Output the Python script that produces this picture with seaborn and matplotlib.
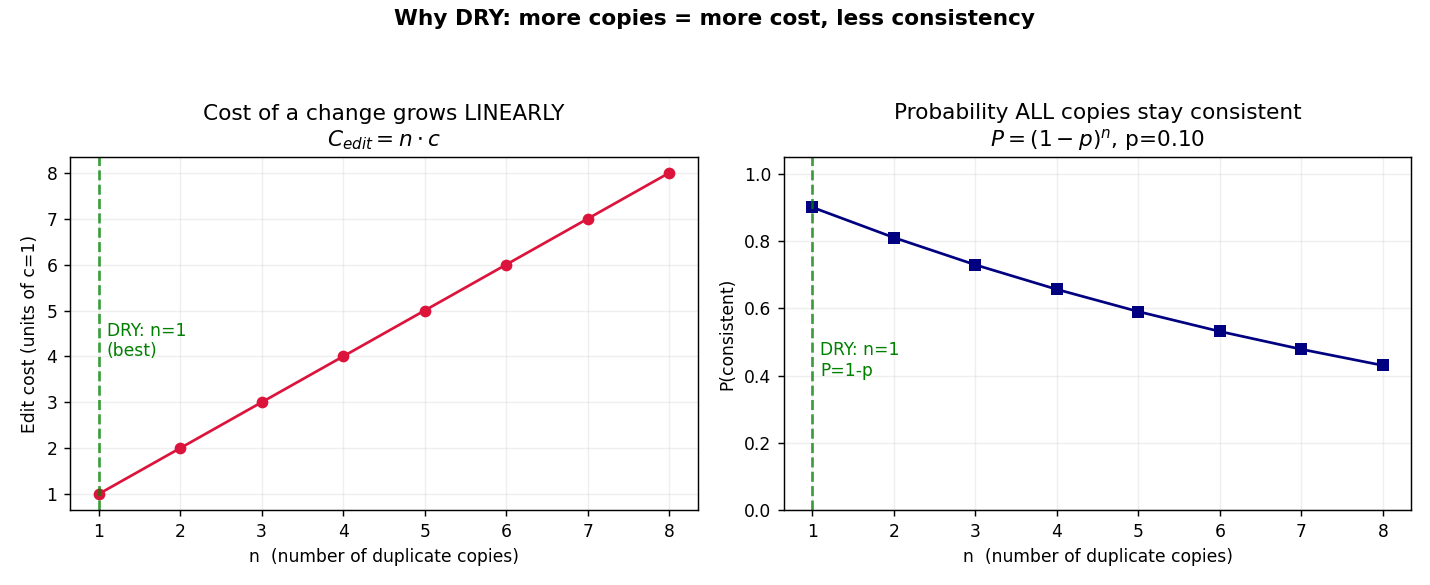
import matplotlib
matplotlib.use("Agg")
import matplotlib.pyplot as plt
import seaborn as sns

n_copies = [1, 2, 3, 4, 5, 6, 7, 8]
edit_cost = [1, 2, 3, 4, 5, 6, 7, 8]
p_consistent = [0.9, 0.81, 0.729, 0.656, 0.590, 0.531, 0.478, 0.430]

sns.set_style("ticks", {
    "text.color": "black", "axes.labelcolor": "black",
    "xtick.color": "black", "ytick.color": "black",
    "axes.edgecolor": "black",
})
plt.rcParams["font.family"] = ["DejaVu Sans"]
plt.rcParams["font.size"] = 9.5

fig, axes = plt.subplots(1, 2, figsize=(11, 4.5), dpi=130)
fig.subplots_adjust(left=0.049, right=0.987, top=0.732, bottom=0.128, wspace=0.137)
fig.suptitle("Why DRY: more copies = more cost, less consistency",
             fontsize=12, fontweight="bold", y=0.985)

ax = axes[0]
sns.lineplot(x=n_copies, y=edit_cost, marker="o", color="crimson", ax=ax,
             markersize=6.5, markeredgewidth=0, lw=1.5)
ax.axvline(1, color="green", ls="--", alpha=0.75, lw=1.5)
ax.text(1.1, 4, "DRY: n=1\n(best)", color="green", fontsize=9.5)
ax.set_title("Cost of a change grows LINEARLY\n$C_{edit} = n \\cdot c$", fontsize=12)
ax.set_xlabel("n  (number of duplicate copies)")
ax.set_ylabel("Edit cost (units of c=1)")
ax.set_xticks(n_copies)
ax.grid(True, alpha=0.3)

ax = axes[1]
sns.lineplot(x=n_copies, y=p_consistent, marker="s", color="navy", ax=ax,
             markersize=6.5, markeredgewidth=0, lw=1.5)
ax.axvline(1, color="green", ls="--", alpha=0.75, lw=1.5)
ax.text(1.1, 0.4, "DRY: n=1\nP=1-p", color="green", fontsize=9.5)
ax.set_title("Probability ALL copies stay consistent\n$P = (1-p)^n$, p=0.10", fontsize=12)
ax.set_xlabel("n  (number of duplicate copies)")
ax.set_ylabel("P(consistent)")
ax.set_xticks(n_copies)
ax.set_ylim(0, 1.05)
ax.grid(True, alpha=0.3)

fig.savefig("out.png", dpi=130)
